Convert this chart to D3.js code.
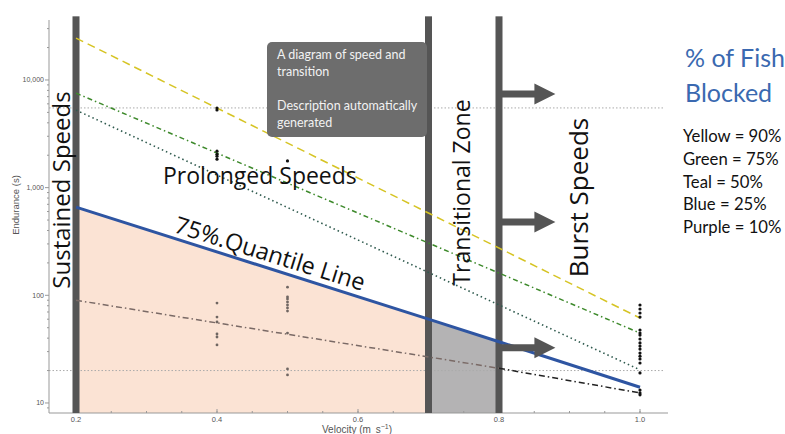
<!DOCTYPE html>
<html><head><meta charset="utf-8">
<script src="https://cdn.jsdelivr.net/npm/d3@7"></script>
<style>html,body{margin:0;padding:0;background:#fff;}svg{display:block;}</style>
</head><body>
<svg id="chart" width="785" height="434"></svg>
<script>
// ---------- data ----------
const xTickValues = [0.2, 0.4, 0.6, 0.8, 1.0];
const xTickLabels = ["0.2", "0.4", "0.6", "0.8", "1.0"];
const yTickValues = [10, 100, 1000, 10000];
const yTickLabels = ["10", "100", "1,000", "10,000"];

const lineVelocity = [0.2, 1.0];
const yellow90 = [24500, 61.5];
const green75 = [7550, 44.6];
const teal50 = [5250, 20.3];
const quantileVelocity = [0.2, 0.7, 0.8, 1.0];
const blue25 = [660, 60, 37, 14];
const purpleVelocity = [0.2, 0.8, 1.0];
const purple10 = [90, 21, 12.4];

const refLevels = [5500, 20];
const zoneEdges = [0.2, 0.7, 0.8];
const zoneTop = 39000;
const arrowLevels = [7400, 480, 32.5];
const arrowEnd = 0.88;

const pts04 = [5480, 5260, 2180, 2040, 1960, 1840, 84.7, 62.8, 56.5, 43.7, 41, 34.6];
const pts05 = [1770, 119, 96.4, 92.5, 86.8, 81.3, 76.2, 71.4, 44.6, 20.7, 18.2];
const pts10 = [81.3, 74.6, 68.5, 62.8, 47.6, 44.6, 42.7, 39.3, 36.1, 33.8, 31.7, 29.1, 27.2, 25.6, 23.5, 19, 13.2, 12.4, 11.9];

const legendTitle = ["% of Fish", "Blocked"];
const legendItems = ["Yellow = 90%", "Green = 75%", "Teal = 50%", "Blue = 25%", "Purple = 10%"];
const noteLines = ["A diagram of speed and", "transition", "", "Description automatically", "generated"];

// ---------- scales ----------
const svg = d3.select("#chart");
const x = d3.scaleLinear().domain([0.2, 1.0]).range([76, 640]);
const y = d3.scaleLog().domain([8.07, 36060]).range([413, 20]);
const xMin = x.invert(49), xMax = x.invert(668);
const yMin = y.domain()[0];

// fills under quantile line
const quant = quantileVelocity.map((v, i) => ({v, e: blue25[i]}));
const area = d3.area().x(d => x(d.v)).y0(y(yMin)).y1(d => y(d.e));
svg.append("path").datum(quant.filter(d => d.v <= 0.7)).attr("d", area).attr("fill", "#fbe3d4");
svg.append("path").datum(quant.filter(d => d.v >= 0.7 && d.v <= 0.8)).attr("d", area).attr("fill", "#b4b3b4");

// reference dotted lines
svg.selectAll(".ref").data(refLevels).enter().append("line")
  .attr("x1", x(xMin)).attr("x2", x(1.035)).attr("y1", d => y(d)).attr("y2", d => y(d))
  .attr("stroke", "#aaa").attr("stroke-width", 1).attr("stroke-dasharray", "1.5,2");

// axes
const gx = svg.append("g").attr("transform", `translate(0,${y(yMin)})`);
gx.append("line").attr("x1", x(xMin)).attr("x2", x(xMax)).attr("stroke", "#999");
const minorX = d3.range(0.2, 1.041, 0.05);
gx.selectAll(".mx").data(minorX).enter().append("line")
  .attr("x1", d => x(d)).attr("x2", d => x(d)).attr("y1", 0).attr("y2", -2).attr("stroke", "#999");
gx.selectAll(".Mx").data(xTickValues).enter().append("line")
  .attr("x1", d => x(d)).attr("x2", d => x(d)).attr("y1", 0).attr("y2", -4).attr("stroke", "#999");
gx.selectAll(".lx").data(xTickValues).enter().append("text")
  .attr("x", d => x(d)).attr("y", 8.5).attr("text-anchor", "middle")
  .attr("font-family", "Liberation Sans, Arial, sans-serif").attr("font-size", 7.5).attr("fill", "#555")
  .text((d, i) => xTickLabels[i]);
const xl = svg.append("text").attr("x", 357).attr("y", 433).attr("text-anchor", "middle")
  .attr("font-family", "Liberation Sans, Arial, sans-serif").attr("font-size", 10).attr("fill", "#555");
xl.append("tspan").text("Velocity (m\u2009 s");
xl.append("tspan").attr("dy", -4).attr("font-size", 7).text("\u22121");
xl.append("tspan").attr("dy", 4).text(")");

const gy = svg.append("g").attr("transform", `translate(${x(xMin)},0)`);
gy.append("line").attr("y1", y(yMin)).attr("y2", y(36060)).attr("stroke", "#999");
const minorY = [];
[1, 10, 100, 1000, 10000].forEach(dec => { for (let k = 2; k <= 9; k++) { const v = dec * k; if (v > yMin && v < 36060) minorY.push(v); } });
gy.selectAll(".my").data(minorY).enter().append("line")
  .attr("x1", 0).attr("x2", -2).attr("y1", d => y(d)).attr("y2", d => y(d)).attr("stroke", "#999");
gy.selectAll(".My").data(yTickValues).enter().append("line")
  .attr("x1", 0).attr("x2", -4).attr("y1", d => y(d)).attr("y2", d => y(d)).attr("stroke", "#999");
gy.selectAll(".ly").data(yTickValues).enter().append("text")
  .attr("x", -5).attr("y", d => y(d) + 2.5).attr("text-anchor", "end")
  .attr("font-family", "Liberation Sans, Arial, sans-serif").attr("font-size", 7).attr("fill", "#555")
  .text((d, i) => yTickLabels[i]);
svg.append("text").attr("transform", "translate(19,205) rotate(-90)").attr("text-anchor", "middle")
  .attr("font-family", "Liberation Sans, Arial, sans-serif").attr("font-size", 9.5).attr("fill", "#555")
  .text("Endurance (s)");

// zone bars
svg.selectAll(".bar").data(zoneEdges).enter().append("rect")
  .attr("x", d => x(d) - 3.5).attr("width", 7).attr("y", y(zoneTop)).attr("height", y(yMin) - y(zoneTop))
  .attr("fill", "#555");

// series lines
const line = d3.line().x(d => x(d.v)).y(d => y(d.e));
function drawLine(vs, es, color, width, dash) {
  svg.append("path").datum(vs.map((v, i) => ({v, e: es[i]}))).attr("d", line)
    .attr("fill", "none").attr("stroke", color).attr("stroke-width", width)
    .attr("stroke-dasharray", dash);
}
drawLine(lineVelocity, yellow90, "#d6c424", 1.5, "8,5");
drawLine(lineVelocity, green75, "#3e8a2c", 1.5, "5,3,1.5,3");
drawLine(lineVelocity, teal50, "#2f5a4e", 1.6, "1.5,3");
drawLine(purpleVelocity.slice(0, 2), purple10.slice(0, 2), "#7a6a66", 1.5, "6,3,1.5,3");
drawLine(purpleVelocity.slice(1), purple10.slice(1), "#222", 1.5, "6,3,1.5,3");
drawLine(quantileVelocity, blue25, "#2e55a2", 3, null);

// data points
const pts = [];
pts04.forEach(e => pts.push({v: 0.4, e}));
pts05.forEach(e => pts.push({v: 0.5, e}));
pts10.forEach(e => pts.push({v: 1.0, e}));
svg.selectAll(".pt").data(pts).enter().append("circle")
  .attr("cx", d => x(d.v)).attr("cy", d => y(d.e)).attr("r", d => d.v < 0.9 && d.e < 200 ? 1.4 : 1.6)
  .attr("fill", d => d.v < 0.9 && d.e < 200 ? "#6f6662" : "#111");

// arrows
const arrowPath = lv => {
  const x0 = x(0.8) + 3, xt = x(arrowEnd), xh = xt - 21, yc = y(lv);
  return `M${x0},${yc - 3.5}L${xh},${yc - 3.5}L${xh},${yc - 10.5}L${xt},${yc}L${xh},${yc + 10.5}L${xh},${yc + 3.5}L${x0},${yc + 3.5}Z`;
};
svg.selectAll(".arrow").data(arrowLevels).enter().append("path")
  .attr("d", arrowPath).attr("fill", "#555");

// annotation labels
const big = "'Open Sans', 'Noto Sans', sans-serif";
svg.append("text").attr("transform", "translate(70,190) rotate(-90)").attr("text-anchor", "middle")
  .attr("font-family", big).attr("font-size", 24).attr("fill", "#111").text("Sustained Speeds");
svg.append("text").attr("x", 163).attr("y", 184)
  .attr("font-family", big).attr("font-size", 23).attr("fill", "#111").text("Prolonged Speeds");
svg.append("text").attr("transform", "translate(173,232) rotate(17.3)")
  .attr("font-family", big).attr("font-size", 23.5).attr("fill", "#111").text("75%.Quantile Line");
svg.append("text").attr("transform", "translate(470,192.5) rotate(-90)").attr("text-anchor", "middle")
  .attr("font-family", big).attr("font-size", 23).attr("fill", "#111").text("Transitional Zone");
svg.append("text").attr("transform", "translate(588,197.5) rotate(-90)").attr("text-anchor", "middle")
  .attr("font-family", big).attr("font-size", 26).attr("fill", "#111").text("Burst Speeds");

// note box
svg.append("rect").attr("x", 267).attr("y", 42).attr("width", 160).attr("height", 95).attr("rx", 5)
  .attr("fill", "#6d6d6d");
svg.selectAll(".note").data(noteLines).enter().append("text")
  .attr("x", 277).attr("y", (d, i) => 59 + i * 17)
  .attr("font-family", "Lato, sans-serif").attr("font-size", 12.5).attr("fill", "#f2f2f2").text(d => d);

// legend
svg.selectAll(".lt").data(legendTitle).enter().append("text")
  .attr("x", 685).attr("y", (d, i) => 67 + i * 35)
  .attr("font-family", "Lato, sans-serif").attr("font-size", 25).attr("fill", "#3a69b0").text(d => d);
svg.selectAll(".li").data(legendItems).enter().append("text")
  .attr("x", 683).attr("y", (d, i) => 142 + i * 22.75)
  .attr("font-family", "Lato, sans-serif").attr("font-size", 16.7).attr("fill", "#111").text(d => d);
</script>
</body></html>
